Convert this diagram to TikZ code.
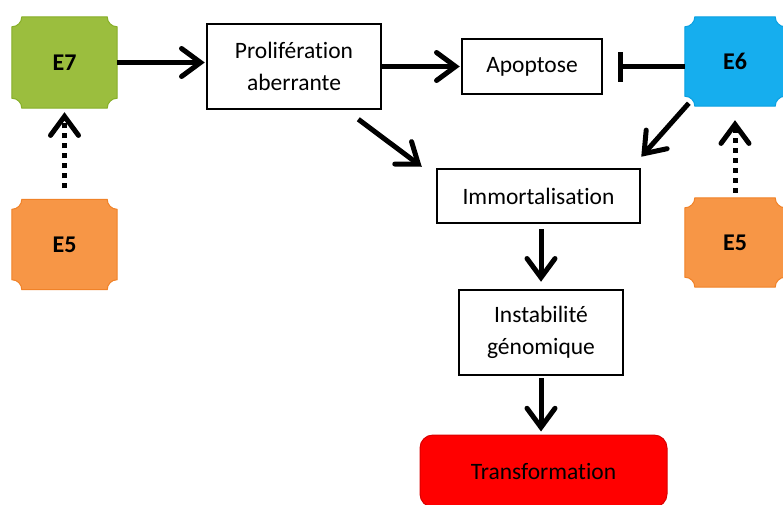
\documentclass[tikz,border=0pt]{standalone}
\usepackage{fontspec}
\setmainfont[Ligatures={NoCommon}]{Carlito}
\usetikzlibrary{arrows.meta,calc}
\pgfdeclarelayer{bg}
\pgfsetlayers{bg,main}
\definecolor{egreen}{RGB}{155,190,62}
\definecolor{egreenD}{RGB}{135,175,40}
\definecolor{eorange}{RGB}{247,150,70}
\definecolor{eorangeD}{RGB}{240,130,40}
\definecolor{eblue}{RGB}{22,174,238}
\definecolor{eblueD}{RGB}{10,160,225}
\tikzset{
 box/.style={draw=black, line width=2.5pt, fill=white, inner sep=0pt, align=center,
   font=\fontsize{23.5}{32}\selectfont},
 plq/.style={inner sep=0pt, font=\bfseries\fontsize{24}{28}\selectfont},
 arr/.style={line width=5pt, -{Straight Barb[length=19pt,width=28pt,line cap=round]}},
 dotarr/.style={arr, dash pattern=on 5pt off 5pt},
 inh/.style={line width=5pt, -{Bar[width=30pt]}},
}
\newcommand\plaquefill[3]{%
\begin{pgfonlayer}{bg}
\filldraw[fill=#2, draw=#3, line width=1pt]
 ($(#1.north west)+(10,0)$) -- ($(#1.north east)+(-10,0)$)
 .. controls ($(#1.north east)+(-10,5.5)$) and ($(#1.north east)+(-5.5,10)$) .. ($(#1.north east)+(0,10)$)
 -- ($(#1.south east)+(0,-10)$)
 .. controls ($(#1.south east)+(-5.5,-10)$) and ($(#1.south east)+(-10,-5.5)$) .. ($(#1.south east)+(-10,0)$)
 -- ($(#1.south west)+(10,0)$)
 .. controls ($(#1.south west)+(10,-5.5)$) and ($(#1.south west)+(5.5,-10)$) .. ($(#1.south west)+(0,-10)$)
 -- ($(#1.north west)+(0,10)$)
 .. controls ($(#1.north west)+(5.5,10)$) and ($(#1.north west)+(10,5.5)$) .. cycle;
\end{pgfonlayer}}
\begin{document}
\begin{tikzpicture}[x=1pt,y=-1pt]
\useasboundingbox (0,0) rectangle (783,504);
% E nodes
\node[plq, minimum width=105pt, minimum height=91pt] (e7) at (64.5,62.5) {E7};
\node[plq, minimum width=105pt, minimum height=90pt] (e5l) at (64.5,244.5) {E5};
\node[plq, minimum width=100pt, minimum height=89pt] (e6) at (735,61.5) {E6};
\node[plq, minimum width=100pt, minimum height=89pt] (e5r) at (735,242.5) {E5};
\plaquefill{e7}{egreen}{egreenD}
\plaquefill{e5l}{eorange}{eorangeD}
\plaquefill{e6}{eblue}{eblueD}
\plaquefill{e5r}{eorange}{eorangeD}
% boxes
\node[box, minimum width=174pt, minimum height=85pt] (prolif) at (294,66.5) {Prolifération\\aberrante};
\node[box, minimum width=140pt, minimum height=55pt] (apop) at (532,66.5) {Apoptose};
\node[box, minimum width=203pt, minimum height=54pt] (immort) at (538.5,196) {Immortalisation};
\node[box, minimum width=164pt, minimum height=85pt] (instab) at (541,332.5) {Instabilité\\génomique};
\node[box, draw=red!85!black, line width=1pt, fill=red, rounded corners=13pt,
  minimum width=247pt, minimum height=72pt] (transf) at (543.5,471) {Transformation};
% connectors
\draw[arr, shorten >=1pt] (e7.east) -- (e7.east -| prolif.west);
\draw[arr, shorten >=1pt] (prolif.east) -- (apop.west);
\draw[inh] (e6.west |- apop.east) -- ($(apop.east)+(15,0)$);
\draw[arr] ($(prolif.south east)+(-24,9)$) -- ($(immort.north west)+(-14,-1)$);
\draw[arr] ($(e6.south west)+(4,-3)$) -- ($(immort.north east)+(0,-11)$);
\draw[arr, shorten <=5pt, shorten >=7pt] (immort.south -| instab.north) -- (instab.north);
\draw[arr, shorten <=2pt, shorten >=3pt] (instab.south) -- (transf.north -| instab.south);
\draw[dotarr, shorten <=11pt, shorten >=4pt] (e5l.north) -- (e7.south);
\draw[dotarr, shorten <=5pt, shorten >=14pt] (e5r.north) -- (e6.south);
\end{tikzpicture}
\end{document}
